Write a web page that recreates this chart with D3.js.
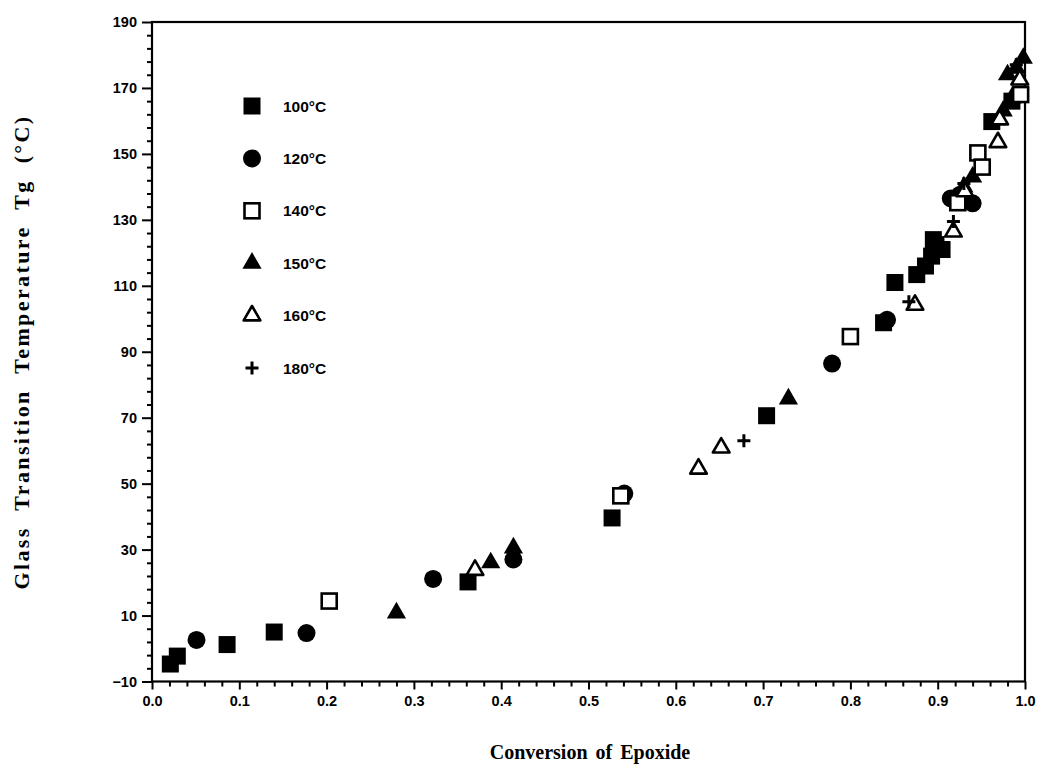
<!DOCTYPE html>
<html><head><meta charset="utf-8">
<script src="https://cdn.jsdelivr.net/npm/d3@7"></script>
<style>body{margin:0;background:#fff}svg{display:block}</style>
</head><body>
<svg id="c" width="1039" height="775"></svg>
<script>
// ---- data (conversion, Tg) ----
const seriesNames = ["100°C","120°C","140°C","150°C","160°C","180°C"];
const s100 = [[0.021,-4.7],[0.029,-2.3],[0.086,1.2],[0.140,5.0],[0.362,20.2],[0.527,39.6],[0.704,70.6],[0.838,98.8],[0.851,111],[0.876,113.4],[0.886,116],[0.893,119],[0.898,122.5],[0.905,121],[0.895,124],[0.962,159.8],[0.985,166]];
const s120 = [[0.051,2.6],[0.177,4.7],[0.322,21.1],[0.414,27],[0.541,47],[0.779,86.4],[0.842,99.7],[0.915,136.5],[0.94,135],[0.925,137.5]];
const s140 = [[0.203,14.4],[0.537,46.3],[0.800,94.6],[0.923,135.2],[0.946,150.3],[0.951,146],[0.995,168]];
const s150 = [[0.280,10.8],[0.388,26],[0.414,30.5],[0.729,75.7],[0.93,140],[0.94,143],[0.95,146],[0.975,163],[0.985,167],[0.98,174],[0.99,176],[0.998,179]];
const s160 = [[0.370,23.8],[0.626,54.5],[0.652,60.9],[0.874,104.2],[0.918,126.4],[0.931,138.6],[0.971,160.4],[0.969,153.5],[0.994,172.5]];
const s180 = [[0.678,63],[0.867,105.2],[0.918,129.5],[0.93,141],[0.99,177]];
const xTicks = [0,0.1,0.2,0.3,0.4,0.5,0.6,0.7,0.8,0.9,1.0];
const yTicks = [-10,10,30,50,70,90,110,130,150,170,190];
const xTitle = "Conversion of Epoxide";
const yTitle = "Glass Transition Temperature Tg (°C)";

const svg = d3.select("#c");
const L=152, R=1025, T=22, B=681.5;
const x = d3.scaleLinear().domain([0,1]).range([L,R]);
const y = d3.scaleLinear().domain([-10,190]).range([B,T]);

// minor ticks
const xMinor = d3.range(0,1.0001,0.02).filter(v=>Math.abs(v*10-Math.round(v*10))>1e-6);
const yMinor = d3.range(-10,190.001,4).filter(v=>(v+10)%20!==0);

const tickFont = "'Liberation Sans', Arial, sans-serif";

const gx = svg.append("g").attr("transform",`translate(0,${B})`)
  .call(d3.axisBottom(x).tickValues(xTicks).tickFormat(d3.format(".1f")).tickSize(8).tickPadding(6));
gx.append("g").call(d3.axisBottom(x).tickValues(xMinor).tickSize(5).tickFormat(""));
const gy = svg.append("g").attr("transform",`translate(${L},0)`)
  .call(d3.axisLeft(y).tickValues(yTicks).tickFormat(d3.format("d")).tickSize(10).tickPadding(5));
gy.append("g").call(d3.axisLeft(y).tickValues(yMinor).tickSize(5).tickFormat(""));
svg.selectAll(".domain").remove();
svg.selectAll(".tick line").attr("stroke","#000").attr("stroke-width",2);
svg.selectAll(".tick text").attr("font-family",tickFont).attr("font-weight","bold").attr("font-size",14.5).attr("fill","#000");

// frame
svg.append("rect").attr("x",L).attr("y",T).attr("width",R-L).attr("height",B-T)
  .attr("fill","none").attr("stroke","#000").attr("stroke-width",2.2);

// titles
svg.append("text").attr("x",590).attr("y",759).attr("text-anchor","middle")
  .attr("font-family","'Liberation Serif','Times New Roman',serif").attr("font-weight","bold")
  .attr("font-size",20).attr("word-spacing",3).text(xTitle);
svg.append("text").attr("transform","translate(29,352) rotate(-90)").attr("text-anchor","middle")
  .attr("font-family","'Liberation Serif','Times New Roman',serif").attr("font-weight","bold")
  .attr("font-size",22).attr("letter-spacing",2.4).attr("word-spacing",8).text(yTitle);

// markers
function marker(g, type){
  if(type==="sq") g.append("rect").attr("x",-8.5).attr("y",-8.5).attr("width",17).attr("height",17).attr("fill","#000");
  else if(type==="ci") g.append("circle").attr("r",9).attr("fill","#000");
  else if(type==="osq") g.append("rect").attr("x",-7.5).attr("y",-7.5).attr("width",15).attr("height",15).attr("fill","#fff").attr("stroke","#000").attr("stroke-width",2.6);
  else if(type==="tr") g.append("path").attr("d",d3.symbol(d3.symbolTriangle,160)()).attr("fill","#000");
  else if(type==="otr") g.append("path").attr("d",d3.symbol(d3.symbolTriangle,120)()).attr("fill","#fff").attr("stroke","#000").attr("stroke-width",2.6).attr("stroke-linejoin","round");
  else if(type==="pl") g.append("path").attr("d","M-6.5,0H6.5M0,-6.5V6.5").attr("stroke","#000").attr("stroke-width",3);
}
const series = [[s100,"sq"],[s120,"ci"],[s150,"tr"],[s140,"osq"],[s160,"otr"],[s180,"pl"]];
series.forEach(([data,type])=>{
  svg.append("g").selectAll("g").data(data).join("g")
    .attr("transform",d=>`translate(${x(d[0])},${y(d[1])})`)
    .each(function(){ marker(d3.select(this),type); });
});

// legend
const legTypes = ["sq","ci","osq","tr","otr","pl"];
const legY = d3.scalePoint().domain(seriesNames).range([106,368]);
seriesNames.forEach((n,i)=>{
  const g = svg.append("g").attr("transform",`translate(252,${legY(n)})`);
  marker(g, legTypes[i]);
  svg.append("text").attr("x",283).attr("y",legY(n)+5.5).attr("font-family",tickFont)
    .attr("font-weight","bold").attr("font-size",15.5).text(n);
});
</script>
</body></html>
